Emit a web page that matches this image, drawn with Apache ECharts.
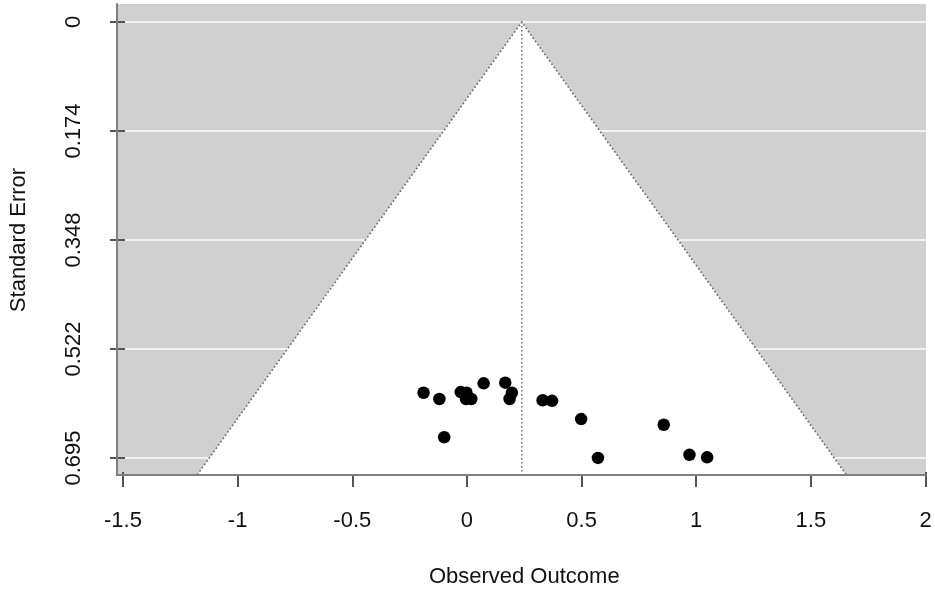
<!DOCTYPE html>
<html>
<head>
<meta charset="utf-8">
<script src="https://cdn.jsdelivr.net/npm/echarts@6/dist/echarts.min.js"></script>
<style>html,body{margin:0;padding:0;background:#fff;}#c{width:935px;height:593px;}</style>
</head>
<body>
<div id="c"></div>
<script>
// ---- data ----
const observedOutcome = [-0.190, -0.121, -0.028, -0.003, -0.005, 0.018, 0.072, 0.166, 0.195, 0.185, 0.329, 0.370, 0.497, -0.100, 0.570, 0.857, 0.969, 1.046];
const standardError   = [0.591, 0.601, 0.590, 0.591, 0.601, 0.601, 0.576, 0.575, 0.591, 0.601, 0.603, 0.604, 0.633, 0.662, 0.695, 0.642, 0.690, 0.694];
const pooledEstimate = 0.238;
const seTickLabels = ["0", "0.174", "0.348", "0.522", "0.695"];
const xTickLabels = ["-1.5", "-1", "-0.5", "0", "0.5", "1", "1.5", "2"];

const X_MIN = -1.5275, X_MAX = 2.0;
const Y_MIN = -0.0287, Y_MAX = 0.7217;
const Z = 1.96;

const font = 'Liberation Sans, Arial, sans-serif';
const chart = echarts.init(document.getElementById('c'));

const points = observedOutcome.map((v, i) => [v, standardError[i]]);

chart.setOption({
  animation: false,
  backgroundColor: '#ffffff',
  grid: [
    { left: 116.7, right: 9, top: 4, bottom: 118.3, show: true, backgroundColor: '#d0d0d0', borderWidth: 0 },
    { left: 123, right: 9.5, top: 4, bottom: 118.3 },
    { left: 116.7, right: 9, top: 22, bottom: 135 }
  ],
  xAxis: [
    { gridIndex: 0, type: 'value', min: X_MIN, max: X_MAX, z: 5,
      axisLine: { show: true, onZero: false, lineStyle: { color: '#808080', width: 2 } },
      axisTick: { show: false }, axisLabel: { show: false }, splitLine: { show: false } },
    { gridIndex: 1, type: 'value', min: -1.5, max: 2, interval: 0.5,
      axisLine: { show: false, onZero: false },
      axisTick: { show: true, length: 15, lineStyle: { color: '#555', width: 2 } },
      axisLabel: { show: true, margin: 38, fontSize: 22, fontFamily: font, color: '#111',
        formatter: (v) => { const i = Math.round((v + 1.5) / 0.5); return xTickLabels[i]; } },
      splitLine: { show: false },
      name: 'Observed Outcome', nameLocation: 'middle', nameGap: 94,
      nameTextStyle: { fontSize: 22, fontFamily: font, color: '#111' } },
    { gridIndex: 2, type: 'value', show: false, min: X_MIN, max: X_MAX }
  ],
  yAxis: [
    { gridIndex: 0, type: 'value', inverse: true, min: Y_MIN, max: Y_MAX, z: 5,
      axisLine: { show: true, onZero: false, lineStyle: { color: '#808080', width: 2 } },
      axisTick: { show: false }, axisLabel: { show: false }, splitLine: { show: false } },
    { gridIndex: 1, type: 'value', show: false, min: 0, max: 1 },
    { gridIndex: 2, type: 'value', inverse: true, min: 0, max: 4, interval: 1,
      axisLine: { show: false, onZero: false },
      axisTick: { show: true, length: 15, lineStyle: { color: '#555', width: 2 } },
      axisLabel: { show: true, rotate: 90, margin: 40, fontSize: 22, fontFamily: font, color: '#111',
        formatter: (v) => seTickLabels[Math.round(v)] },
      splitLine: { show: true, lineStyle: { color: '#f2f2f2', width: 2 } },
      name: 'Standard Error', nameLocation: 'middle', nameGap: 95, nameRotate: 90,
      nameTextStyle: { fontSize: 22, fontFamily: font, color: '#111' } }
  ],
  series: [
    {
      type: 'custom', xAxisIndex: 0, yAxisIndex: 0, z: 2, silent: true,
      data: [[pooledEstimate]],
      renderItem: function (params, api) {
        const c = api.value(0);
        const top = api.coord([c, 0]);
        const bl = api.coord([c - Z * Y_MAX, Y_MAX]);
        const br = api.coord([c + Z * Y_MAX, Y_MAX]);
        const bc = api.coord([c, Y_MAX]);
        return {
          type: 'group',
          children: [
            { type: 'polygon', shape: { points: [bl, top, br] }, style: { fill: '#ffffff', stroke: null } },
            { type: 'polyline', shape: { points: [bl, top, br] },
              style: { fill: null, stroke: '#666', lineWidth: 1.6, lineDash: [1.6, 2.4] } },
            { type: 'line', shape: { x1: top[0], y1: top[1], x2: bc[0], y2: bc[1] },
              style: { stroke: '#777', lineWidth: 1.6, lineDash: [1.6, 2.4] } }
          ]
        };
      }
    },
    {
      type: 'scatter', xAxisIndex: 0, yAxisIndex: 0, z: 6,
      symbol: 'circle', symbolSize: 12.5,
      itemStyle: { color: '#000000', opacity: 1 },
      data: points
    }
  ]
});
</script>
</body>
</html>
